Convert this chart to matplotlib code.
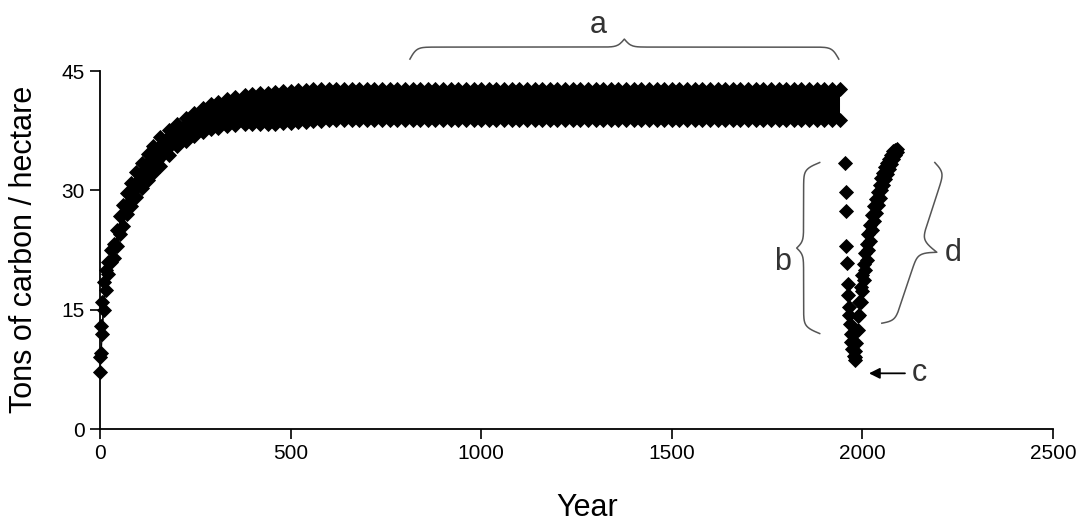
import numpy as np
import matplotlib
matplotlib.use('Agg')
import matplotlib.pyplot as plt

plt.rcParams['font.family'] = ['Liberation Sans', 'DejaVu Sans']

# Growth band (years 0 - 1940): lower and upper edge of the point cloud
early_years = [0, 3, 6, 10, 15, 21, 28, 36, 44, 52, 60, 70, 80, 95, 110, 125, 140, 157,
               180, 202, 225, 247, 270, 290, 310, 333, 355, 380, 400, 420, 440, 460,
               480, 500, 520, 540, 560, 580, 600]
early_low = [7.2, 9.5, 12.0, 15.0, 17.5, 19.5, 21.0, 21.5, 23.0, 24.5, 25.5, 27.0, 28.0,
             29.2, 30.3, 31.3, 32.2, 33.0, 34.4, 35.6, 36.2, 36.8, 37.3, 37.7, 37.9,
             38.1, 38.2, 38.3, 38.35, 38.4, 38.4, 38.4, 38.5, 38.5, 38.6, 38.6, 38.7,
             38.7, 38.8]
early_high = [9.0, 13.0, 16.0, 18.5, 20.0, 21.0, 22.5, 23.2, 25.0, 26.8, 28.2, 29.7, 30.9,
              32.3, 33.5, 34.6, 35.6, 36.7, 37.6, 38.3, 39.1, 39.7, 40.4, 40.8, 41.1,
              41.5, 41.7, 42.0, 42.1, 42.2, 42.3, 42.4, 42.5, 42.55, 42.6, 42.65, 42.7,
              42.75, 42.8]
plateau_years = list(range(620, 1941, 20))
plateau_low = 38.8
plateau_high = 42.8

band_years = early_years + plateau_years
band_low = early_low + [plateau_low] * len(plateau_years)
band_high = early_high + [plateau_high] * len(plateau_years)

# Decline after harvest (b)
b_years = [1955, 1956, 1956, 1958, 1959, 1961, 1962, 1964, 1965, 1967, 1969, 1971, 1974, 1977, 1980]
b_vals = [33.5, 29.8, 27.4, 23.0, 20.9, 18.2, 16.8, 15.4, 14.3, 13.2, 12.0, 11.0, 10.0, 9.2, 8.7]

# Regrowth (d), two edges of the thick trace
d_years = [1980, 1984, 1988, 1992, 1996, 2000, 2004, 2008, 2012, 2016, 2020, 2025, 2030,
           2035, 2040, 2045, 2050, 2055, 2060, 2065, 2070, 2075, 2080, 2085, 2090]
d_right = [9.0, 10.8, 12.5, 14.3, 16.0, 17.3, 18.7, 20.0, 21.3, 22.5, 23.6, 25.0, 26.2,
           27.2, 28.2, 29.1, 30.0, 30.7, 31.4, 32.0, 32.7, 33.3, 33.9, 34.4, 34.8]
d_left = [9.8, 12.3, 14.2, 16.0, 17.8, 19.3, 20.7, 22.1, 23.3, 24.5, 25.7, 26.9, 28.0,
          28.9, 29.8, 30.7, 31.5, 32.2, 32.9, 33.5, 34.0, 34.5, 34.9, 35.1, 35.2]

x_ticks = [0, 500, 1000, 1500, 2000, 2500]
y_ticks = [0, 15, 30, 45]


def brace(ax, p0, p1, height, plateau=0.6, beta=0.3):
    # curly brace drawn in pixel space between two data points
    T = ax.transData
    a = T.transform(p0)
    b = T.transform(p1)
    L = np.hypot(*(b - a))
    u = (b - a) / L
    n = np.array([-u[1], u[0]])
    s = np.linspace(0, L / 2, 200)
    half = plateau * (2 / (1 + np.exp(-beta * s)) - 1) + (1 - plateau) * 2 / (1 + np.exp(-beta * (s - L / 2)))
    full = np.concatenate([half, half[::-1][1:]])
    sv = np.concatenate([s, L - s[::-1][1:]])
    pts = a + np.outer(sv, u) + np.outer(full * height, n)
    d = T.inverted().transform(pts)
    ax.plot(d[:, 0], d[:, 1], color='#555555', lw=1.1, clip_on=False)


fig = plt.figure(figsize=(10.86, 5.23), dpi=100)
ax = fig.add_axes([0.0921, 0.1797, 0.8775, 0.6845])

ax.fill_between(band_years, band_low, band_high, color='black', lw=0)
mk = dict(marker='D', ms=7.5, color='black', linestyle='none', mew=0.6, clip_on=False)
ax.plot(band_years, band_low, **mk)
ax.plot(band_years, band_high, **mk)
ax.plot(b_years, b_vals, **mk)
ax.plot(d_years, d_right, **mk)
ax.plot(d_years, d_left, **mk)

ax.set_xlim(0, 2500)
ax.set_ylim(0, 45)
ax.set_xticks(x_ticks)
ax.set_yticks(y_ticks)
ax.tick_params(direction='out', length=7, width=1.2, labelsize=15, pad=4)
for side in ['top', 'right']:
    ax.spines[side].set_visible(False)
for side in ['left', 'bottom']:
    ax.spines[side].set_linewidth(1.3)

ax.set_xlabel('Year', fontsize=22)
ax.set_ylabel('Tons of carbon / hectare', fontsize=22)
ax.xaxis.set_label_coords(0.511, -0.18)
ax.yaxis.set_label_coords(-0.064, 0.503)

# annotations
brace(ax, (813, 46.5), (1938, 46.5), 20, plateau=0.6)
ax.text(1306, 50.8, 'a', fontsize=22, ha='center', va='center', color='#333333')
brace(ax, (1888, 33.5), (1888, 12.0), -23, plateau=0.7)
ax.text(1790, 21.0, 'b', fontsize=22, ha='center', va='center', color='#333333')
brace(ax, (2190, 33.5), (2051, 13.3), 30, plateau=0.4)
ax.text(2238, 22.1, 'd', fontsize=22, ha='center', va='center', color='#333333')
ax.annotate('', xy=(2010, 7.0), xytext=(2119, 7.0),
            arrowprops=dict(arrowstyle='-|>', color='black', lw=1.3, mutation_scale=16))
ax.text(2150, 7.0, 'c', fontsize=22, ha='center', va='center', color='#333333')

plt.savefig('out.png', dpi=100)
